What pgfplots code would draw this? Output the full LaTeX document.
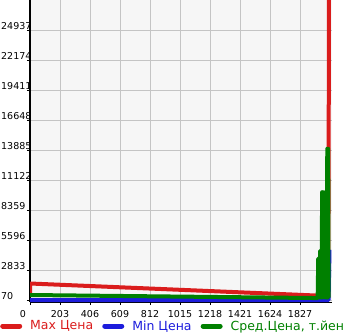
\documentclass[border=0pt]{standalone}
\usepackage{pgfplots}
\pgfplotsset{compat=1.18}
\usepackage{fontspec}
\setmainfont{DejaVu Sans}
\definecolor{cred}{RGB}{218,28,28}
\definecolor{cblue}{RGB}{28,28,220}
\definecolor{cgreen}{RGB}{0,128,0}
\definecolor{bgc}{RGB}{246,246,246}
\definecolor{gridc}{RGB}{196,196,196}
\begin{document}
\begin{tikzpicture}[x=1pt,y=1pt]
\path[use as bounding box] (0,0) rectangle (345,335);
\begin{axis}[
  at={(30pt,33pt)}, anchor=south west,
  scale only axis, width=302pt, height=302pt,
  xmin=0, xmax=2043, ymin=-114, ymax=27700,
  axis background/.style={fill=bgc},
  axis x line=bottom, axis y line=left, axis line style={-},
  x axis line style={black, line width=0.6pt},
  y axis line style={black, line width=2pt},
  grid=major, grid style={gridc, line width=0.9pt},
  xtick={0,203,406,609,812,1015,1218,1421,1624,1827},
  xticklabels={0\hspace*{14pt},203,406,609,812,1015,1218,1421,1624,1827},
  ytick={70,2833,5596,8359,11122,13885,16648,19411,22174,24937},
  yticklabels={70,2833,5596,8359,11122,13885,16648,19411,22174,24937},
  tick align=outside, major tick length=3pt,
  tick style={black, line width=0.8pt},
  xticklabel style={font=\fontsize{9.5}{10}\selectfont, inner sep=0pt, yshift=-5pt},
  yticklabel style={font=\fontsize{9.5}{10}\selectfont, anchor=south west, inner sep=0pt, xshift=-26pt, yshift=0.5pt},
  legend style={at={(-0.0993,-0.0795)}, anchor=west, draw=none, fill=none, inner sep=0pt,
    font=\fontsize{12.5}{14}\selectfont, nodes={inner sep=0pt},
    /tikz/every odd column/.append style={column sep=8pt},
    /tikz/every even column/.append style={column sep=9pt}},
  legend columns=3,
  legend image code/.code={\draw[#1, line width=5pt, line cap=round] (2.5pt,0pt) -- (19.5pt,0pt);},
  every axis plot/.append style={line width=4pt, line join=round},
]
\addplot[cred] coordinates {(0,400) (0,1590) (1940,480) (2018,300) (2023,30000)};
\addlegendentry{\textcolor{cred}{Max Цена}}
\addplot[cblue] coordinates {(0,70) (2020,70) (2026,4700)};
\addlegendentry{\textcolor{cblue}{Min Цена}}
\addplot[cgreen] coordinates {(0,530) (1940,250) (1946,250) (1950,3900) (1953,300) (1957,3900) (1960,300) (1963,4600) (1967,300) (1970,4600) (1973,300) (1976,10000) (1980,300) (1985,10000) (1990,300) (1995,10000) (2000,300) (2004,10000) (2008,300) (2011,14000) (2014,300) (2017,14000) (2020,300)};
\addlegendentry{\textcolor{cgreen}{Сред.Цена, т.йен}}
\end{axis}
\end{tikzpicture}
\end{document}
